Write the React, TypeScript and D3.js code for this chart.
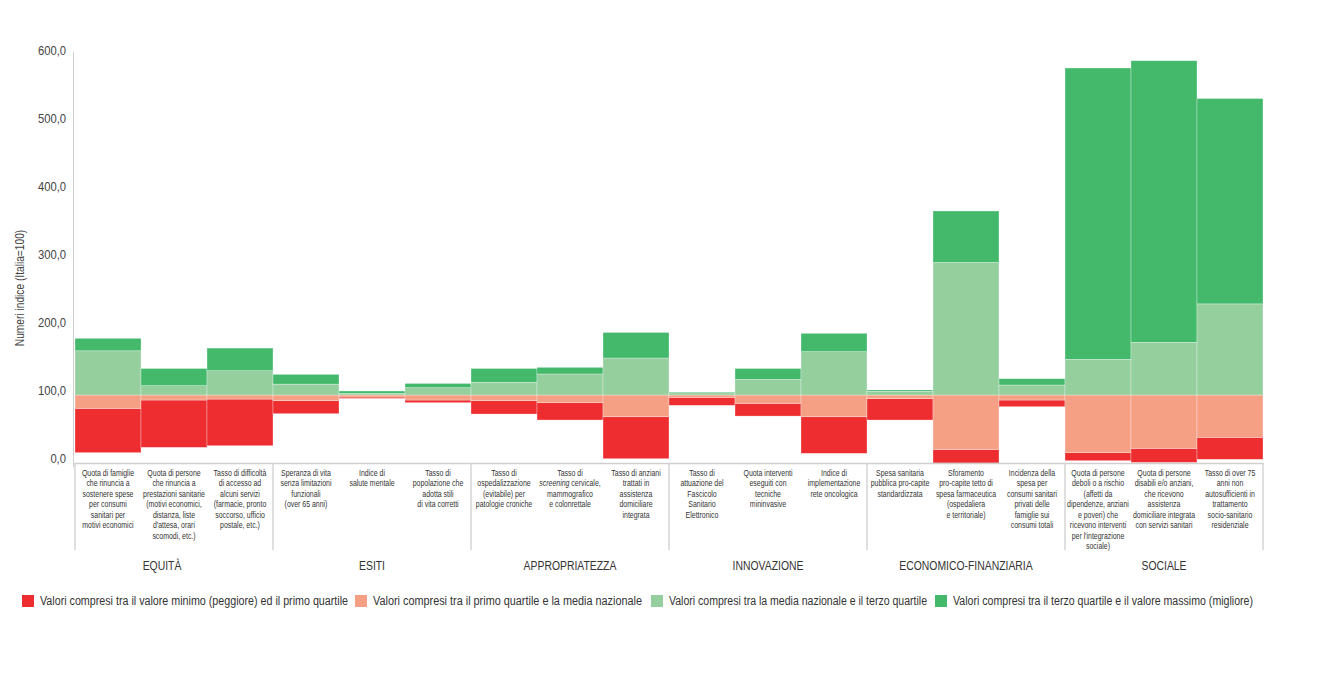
import React from "react";
import * as d3 from "d3";

const categories = [
  "Quota di famiglie|che rinuncia a|sostenere spese|per consumi|sanitari per|motivi economici",
  "Quota di persone|che rinuncia a|prestazioni sanitarie|(motivi economici,|distanza, liste|d'attesa, orari|scomodi, etc.)",
  "Tasso di difficoltà|di accesso ad|alcuni servizi|(farmacie, pronto|soccorso, ufficio|postale, etc.)",
  "Speranza di vita|senza limitazioni|funzionali|(over 65 anni)",
  "Indice di|salute mentale",
  "Tasso di|popolazione che|adotta stili|di vita corretti",
  "Tasso di|ospedalizzazione|(evitabile) per|patologie croniche",
  "Tasso di|*screening* cervicale,|mammografico|e colonrettale",
  "Tasso di anziani|trattati in|assistenza|domiciliare|integrata",
  "Tasso di|attuazione del|Fascicolo|Sanitario|Elettronico",
  "Quota interventi|eseguiti con|tecniche|mininvasive",
  "Indice di|implementazione|rete oncologica",
  "Spesa sanitaria|pubblica pro-capite|standardizzata",
  "Sforamento|pro-capite tetto di|spesa farmaceutica|(ospedaliera|e territoriale)",
  "Incidenza della|spesa per|consumi sanitari|privati delle|famiglie sui|consumi totali",
  "Quota di persone|deboli o a rischio|(affetti da|dipendenze, anziani|e poveri) che|ricevono interventi|per l'integrazione|sociale)",
  "Quota di persone|disabili e/o anziani,|che ricevono|assistenza|domiciliare integrata|con servizi sanitari",
  "Tasso di over 75|anni non|autosufficienti in|trattamento|socio-sanitario|residenziale",
];

const groups = ["EQUITÀ", "ESITI", "APPROPRIATEZZA", "INNOVAZIONE", "ECONOMICO-FINANZIARIA", "SOCIALE"];
const groupSizes = [3, 3, 3, 3, 3, 3];

const minVals = [15.2, 23, 25.4, 72.5, 95, 88.7, 72, 63.2, 6.3, 84.8, 69, 14.2, 63.2, 0, 82.8, 3.4, 0.8, 5.4];
const q1Vals = [80.4, 92.6, 94, 91.6, 97, 92.6, 91.6, 88.7, 68, 96.6, 87.8, 68, 94.6, 20, 92.6, 15.2, 21.6, 37.8];
const meanVals = [100, 100, 100, 100, 100, 100, 100, 100, 100, 100, 100, 100, 100, 100, 100, 100, 100, 100];
const q3Vals = [165, 113.7, 135.7, 116, 102.4, 110.7, 118.7, 130.9, 154.4, 103.2, 123, 163.7, 105.4, 295, 114.7, 152.5, 177.5, 234];
const maxVals = [183.4, 139, 169, 130.4, 105.9, 117, 139, 140.7, 192, 104.4, 139, 190.7, 107.4, 370.6, 124, 580.9, 591.6, 536];

const yTicks = [0, 100, 200, 300, 400, 500, 600];

const legendLabels = [
  "Valori compresi tra il valore minimo (peggiore) ed il primo quartile",
  "Valori compresi tra il primo quartile e la media nazionale",
  "Valori compresi tra la media nazionale e il terzo quartile",
  "Valori compresi tra il terzo quartile e il valore massimo (migliore)",
];
const colors = ["#ED2D30", "#F5A084", "#95CF9D", "#44B96C"];

const FONT = "'Liberation Sans', Arial, sans-serif";
const SQ = 0.8; // horizontal condensation to mimic a narrow typeface

export default function App() {
  const W = 1332, H = 677;
  const x = d3.scaleBand<number>().domain(d3.range(categories.length)).range([75, 1263]).padding(0);
  const y = d3.scaleLinear().domain([0, 600]).range([463, 55]);
  const fmt = (v: number) => d3.format(".1f")(v).replace(".", ",");

  const segs: { i: number; lo: number; hi: number; c: string }[] = [];
  categories.forEach((_, i) => {
    const bounds = [minVals[i], q1Vals[i], meanVals[i], q3Vals[i], maxVals[i]];
    for (let k = 0; k < 4; k++) {
      if (bounds[k + 1] > bounds[k]) segs.push({ i, lo: bounds[k], hi: bounds[k + 1], c: colors[k] });
    }
  });

  const groupStarts: number[] = [];
  let acc = 0;
  groupSizes.forEach((s) => { groupStarts.push(acc); acc += s; });
  const groupCenterX = (g: number) => {
    const a = x(groupStarts[g])!;
    const b = x(groupStarts[g] + groupSizes[g] - 1)! + x.bandwidth();
    return (a + b) / 2;
  };
  const sepXs = [...groupStarts.map((s) => x(s)!), x(categories.length - 1)! + x.bandwidth()];

  const legendX = [22, 355, 651, 935];
  const legendW = [308, 269, 258, 300];

  return (
    <svg width={W} height={H} style={{ display: "block", position: "absolute", left: 0, top: 0, background: "#fff" }}>
      {/* y axis */}
      <line x1={73.5} x2={73.5} y1={52} y2={467} stroke="#cfcfcf" strokeWidth={1} />
      {yTicks.map((t) => (
        <g key={t} transform={`translate(66,${y(t) - 3}) scale(0.9,1)`}>
          <text x={0} y={0} textAnchor="end" dominantBaseline="middle" fontFamily={FONT} fontSize={12.5} fill="#444">
            {fmt(t)}
          </text>
        </g>
      ))}
      <g transform={`translate(24,288) rotate(-90) scale(0.85,1)`}>
        <text x={0} y={0} textAnchor="middle" fontFamily={FONT} fontSize={12} fill="#444">
          Numeri indice (Italia=100)
        </text>
      </g>

      {/* bars */}
      {segs.map((s, k) => (
        <rect key={k} x={x(s.i)!} width={x.bandwidth()} y={y(s.hi)} height={y(s.lo) - y(s.hi)} fill={s.c} stroke="#ffffff" strokeOpacity={0.5} strokeWidth={0.6} />
      ))}

      {/* category box */}
      <line x1={73} x2={1264} y1={463.5} y2={463.5} stroke="#cfcfcf" strokeWidth={1.5} />
      {sepXs.map((sx, k) => (
        <line key={k} x1={sx} x2={sx} y1={463} y2={550} stroke="#d5d5d5" strokeWidth={1.5} />
      ))}
      {categories.map((c, i) => {
        const cx = x(i)! + x.bandwidth() / 2;
        return (
          <g key={i} transform={`translate(${cx},476) scale(${SQ},1)`}>
            <text x={0} y={0} textAnchor="middle" fontFamily={FONT} fontSize={8.7} fill="#333">
              {c.split("|").map((line, j) => {
                const parts = line.split("*");
                return (
                  <tspan key={j} x={0} dy={j === 0 ? 0 : 10.5}>
                    {parts.map((p, m) => (
                      <tspan key={m} fontStyle={m % 2 === 1 ? "italic" : "normal"}>{p}</tspan>
                    ))}
                  </tspan>
                );
              })}
            </text>
          </g>
        );
      })}
      {groups.map((g, k) => (
        <g key={g} transform={`translate(${k === 0 ? groupCenterX(k) - 12 : groupCenterX(k)},570) scale(0.8,1)`}>
          <text x={0} y={0} textAnchor="middle" fontFamily={FONT} fontSize={13} fill="#333">
            {g}
          </text>
        </g>
      ))}

      {/* legend */}
      {legendLabels.map((l, k) => (
        <g key={k}>
          <rect x={legendX[k]} y={595} width={12} height={12} fill={colors[k]} />
          <text x={legendX[k] + 18} y={601.5} dominantBaseline="middle" fontFamily={FONT} fontSize={12.5} fill="#333"
            textLength={legendW[k]} lengthAdjust="spacingAndGlyphs">
            {l}
          </text>
        </g>
      ))}
    </svg>
  );
}
